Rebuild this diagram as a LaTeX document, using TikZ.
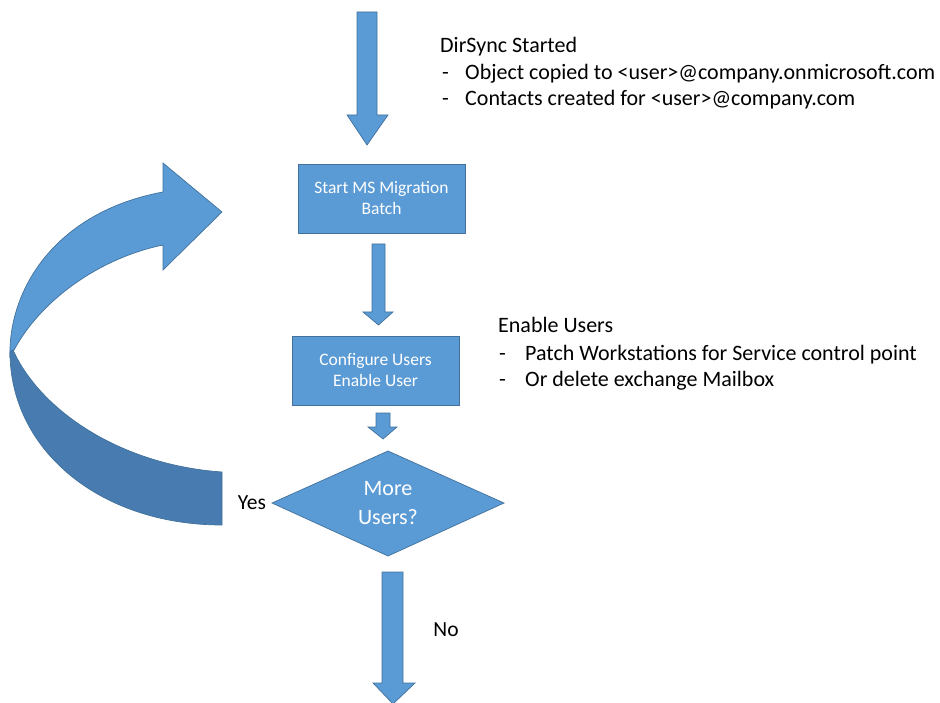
\documentclass[tikz,border=0pt]{standalone}
\usepackage{fontspec}
\setmainfont{Carlito}
\usetikzlibrary{shapes.geometric}
\definecolor{fillblue}{HTML}{5B9BD5}
\definecolor{edgeblue}{HTML}{41719C}
\definecolor{darkblue}{HTML}{487CB0}
\begin{document}
\begin{tikzpicture}[x=1pt,y=-1pt,
  blk/.style={fill=fillblue,draw=edgeblue,line width=0.7pt,line join=miter},
  dk/.style={fill=darkblue,draw=edgeblue,line width=0.7pt},
  boxtext/.style={text=white,font=\fontsize{17.5}{21}\selectfont,align=center},
  note/.style={anchor=base west,font=\fontsize{22}{26}\selectfont,inner sep=0pt},
  lbl/.style={font=\fontsize{21.5}{24}\selectfont,inner sep=0pt}]
\useasboundingbox (0,0) rectangle (940,703);
% top arrow
\draw[blk] (357,12) -- (377,12) -- (377,115) -- (388,115) -- (367,145) -- (347,115) -- (357,115) -- cycle;
% box 1
\draw[blk] (298,164) rectangle (465,233);
\node[boxtext] (b1) at (381.5,198.5) {Start MS Migration\\Batch};
% arrow 2
\draw[blk] (372,244) -- (385,244) -- (385,312) -- (393,312) -- (378.5,325) -- (363,312) -- (372,312) -- cycle;
% box 2
\draw[blk] (292,336) rectangle (459,405);
\node[boxtext] (b2) at (375.5,370.5) {Configure Users\\Enable User};
% arrow 3
\draw[blk] (376,413) -- (390,413) -- (390,427) -- (397,427) -- (383,439) -- (368,427) -- (376,427) -- cycle;
% diamond
\draw[blk] (272,503) -- (388,451) -- (504,503) -- (388,556) -- cycle;
\node[boxtext,font=\fontsize{22}{28.5}\selectfont] (d) at (388,503) {More\\Users?};
% bottom arrow
\draw[blk] (382,572) -- (403,572) -- (403,683) -- (415,683) -- (393,704) -- (373,683) -- (382,683) -- cycle;
% curved arrow back part
\draw[blk] (10,357) .. controls (8,290) and (55,212) .. (163,192) -- (163,163) -- (222,212) -- (163,270) -- (163,245) .. controls (100,258) and (40,300) .. (13,352) -- cycle;
% curved arrow front part
\draw[dk] (10,352) .. controls (10,450) and (100,525) .. (222,525) -- (222,472) .. controls (120,465) and (40,410) .. (13,350) -- cycle;
% labels
\node[lbl] (yes) at (252,503) {Yes};
\node[lbl] (no) at (446,630) {No};
% notes
\node[note] (n1) at (440,53) {DirSync Started};
\node[note] (n1a) at (442,80) {-};
\node[note] (n1b) at (465,80) {Object copied to <user>@company.onmicrosoft.com};
\node[note] (n1c) at (442,106) {-};
\node[note] (n1d) at (465,106) {Contacts created for <user>@company.com};
\node[note] (n2) at (498,333) {Enable Users};
\node[note] (n2a) at (499,360) {-};
\node[note] (n2b) at (525,360) {Patch Workstations for Service control point};
\node[note] (n2c) at (499,386) {-};
\node[note] (n2d) at (525,386) {Or delete exchange Mailbox};
\end{tikzpicture}
\end{document}
